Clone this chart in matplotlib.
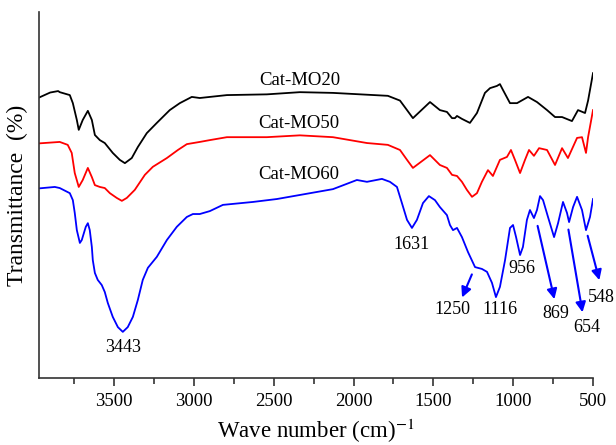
import matplotlib.pyplot as plt
import numpy as np

plt.rcParams['font.family'] = ['Liberation Serif', 'DejaVu Serif']
plt.rcParams['mathtext.fontset'] = 'stix'

# spectra (wavenumber in cm-1, transmittance in arbitrary units)
wn_mo20 = [3971, 3900, 3850, 3840, 3777, 3758, 3733, 3721, 3696, 3664, 3639, 3620,
           3589, 3558, 3508, 3464, 3432, 3389, 3351, 3295, 3232, 3151, 3088, 3013,
           2963, 2900, 2793, 2543, 2336, 2129, 1785, 1709, 1665, 1628, 1521, 1459,
           1415, 1383, 1365, 1352, 1321, 1271, 1227, 1177, 1145, 1102, 1083, 1064,
           1020, 976, 907, 851, 788, 738, 694, 632, 594, 550, 531, 500]
t_mo20 = [76.6, 78.0, 78.4, 78.1, 77.3, 75.1, 70.5, 67.8, 70.5, 73.0, 70.5, 66.4,
          65.0, 64.2, 61.5, 59.6, 58.7, 60.1, 63.1, 66.9, 69.7, 73.2, 75.1, 76.8,
          76.5, 76.8, 77.3, 77.5, 78.1, 77.9, 77.1, 75.8, 73.2, 71.0, 75.4, 73.2,
          72.7, 71.0, 71.0, 71.6, 70.8, 69.7, 72.4, 77.9, 79.2, 79.8, 80.3, 78.7,
          75.1, 75.1, 76.8, 75.4, 73.2, 71.3, 71.3, 70.2, 73.2, 72.4, 75.8, 83.3]

wn_mo50 = [3971, 3840, 3790, 3765, 3746, 3721, 3696, 3664, 3639, 3620, 3589, 3558,
           3526, 3483, 3451, 3420, 3370, 3307, 3257, 3169, 3100, 3044, 2963, 2900,
           2793, 2543, 2336, 2129, 1916, 1785, 1709, 1665, 1628, 1521, 1459, 1415,
           1383, 1352, 1321, 1290, 1258, 1227, 1196, 1158, 1127, 1083, 1039, 1014,
           989, 957, 926, 901, 870, 838, 788, 738, 694, 657, 600, 569, 544, 531, 500]
t_mo50 = [64.1, 64.5, 63.7, 61.5, 56.0, 52.2, 54.1, 57.4, 54.9, 52.7, 52.2, 51.9,
          50.5, 49.2, 48.4, 49.2, 51.4, 55.5, 57.7, 60.1, 62.3, 63.9, 64.5, 65.0,
          65.8, 65.8, 66.3, 65.8, 64.2, 63.7, 62.3, 59.6, 57.4, 60.9, 58.2, 57.4,
          55.5, 55.2, 53.6, 51.4, 49.5, 50.5, 53.6, 56.8, 55.2, 59.6, 60.4, 62.3,
          59.6, 56.0, 59.6, 62.3, 60.7, 62.8, 62.3, 58.2, 62.8, 60.1, 65.6, 65.8,
          61.5, 65.8, 73.2]

wn_mo60 = [3971, 3871, 3840, 3777, 3758, 3746, 3733, 3714, 3702, 3677, 3664, 3652,
           3639, 3633, 3620, 3602, 3577, 3558, 3539, 3508, 3476, 3445, 3414, 3382,
           3351, 3320, 3288, 3232, 3169, 3107, 3044, 3006, 2963, 2900, 2818, 2630,
           2480, 2129, 1979, 1916, 1822, 1772, 1728, 1697, 1665, 1634, 1603, 1565,
           1528, 1490, 1459, 1415, 1396, 1377, 1352, 1321, 1283, 1239, 1196, 1164,
           1133, 1108, 1083, 1051, 1020, 1001, 982, 957, 939, 914, 895, 870, 851,
           832, 813, 782, 744, 719, 688, 663, 650, 625, 600, 569, 544, 519, 500]
t_mo60 = [51.8, 52.2, 51.9, 50.5, 48.6, 45.1, 40.4, 36.9, 37.7, 41.3, 42.3, 40.4,
          35.8, 32.2, 28.7, 26.8, 25.4, 23.5, 20.5, 16.7, 13.9, 12.6, 13.9, 16.7,
          21.3, 26.8, 30.1, 33.1, 37.7, 41.3, 44.0, 44.8, 44.8, 45.6, 47.3, 48.1,
          48.9, 51.6, 54.1, 53.6, 54.4, 53.6, 52.2, 47.8, 43.2, 41.0, 43.2, 47.8,
          49.7, 48.6, 46.7, 44.5, 41.8, 40.4, 41.0, 38.5, 34.4, 30.3, 29.8, 29.0,
          26.0, 22.1, 24.9, 32.2, 41.0, 41.8, 38.5, 33.6, 35.8, 43.2, 45.9, 43.7, 45.9,
          49.7, 48.6, 44.0, 38.5, 42.3, 48.1, 45.1, 42.6, 46.7, 49.5, 45.9, 40.4, 44.0, 48.9]

series_names = ['Cat-MO20', 'Cat-MO50', 'Cat-MO60']
series_colors = ['black', 'red', 'blue']
name_pos = [(2335, 81.3), (2340, 69.5), (2340, 55.5)]

# peak labels without arrow: (text, x, y)
plain_labels = [('3443', 3440, 8.4), ('1631', 1635, 36.5), ('1116', 1080, 18.6), ('956', 945, 29.8)]
# arrowed peak labels: (text, arrow start, arrow end, text position)
arrow_labels = [
    ('1250', (1252, 29.0), (1327, 21.3), (1380, 18.6)),
    ('869', (851, 42.3), (738, 20.8), (735, 17.5)),
    ('654', (657, 41.3), (563, 17.2), (540, 13.7)),
    ('548', (538, 39.6), (456, 26.0), (445, 22.0)),
]

fig = plt.figure(figsize=(6.16, 4.45), dpi=100)
ax = fig.add_axes([0.0633, 0.1506, 0.8994, 0.8224])

for wn, t, c in zip([wn_mo20, wn_mo50, wn_mo60], [t_mo20, t_mo50, t_mo60], series_colors):
    ax.plot(wn, t, color=c, lw=1.3)

for name, (x, y) in zip(series_names, name_pos):
    ax.text(x, y, name, ha='center', va='center', fontsize=13.5)

for txt, x, y in plain_labels:
    ax.text(x, y, txt, ha='center', va='center', fontsize=13)

for txt, start, end, pos in arrow_labels:
    ax.annotate('', xy=end, xytext=start, annotation_clip=False,
                arrowprops=dict(arrowstyle='-|>', color='blue', lw=1.5, mutation_scale=15))
    ax.text(pos[0], pos[1], txt, ha='center', va='center', fontsize=13, clip_on=False)

ax.set_xlim(3970, 500)
ax.set_ylim(0, 100)
ax.set_xticks(np.arange(3500, 499, -500))
ax.set_xticks(np.arange(3750, 499, -500), minor=True)
ax.set_yticks([])
ax.spines['top'].set_visible(False)
ax.spines['right'].set_visible(False)
for s in ['left', 'bottom']:
    ax.spines[s].set_linewidth(1.2)
    ax.spines[s].set_color('#333333')
ax.tick_params(axis='x', which='major', direction='out', length=6, width=1.2,
               color='#333333', labelsize=13.5, pad=5)
ax.tick_params(axis='x', which='minor', direction='out', length=4, width=1.2, color='#333333')

ax.set_xlabel('Wave number (cm)$^{-1}$', fontsize=16.5, labelpad=5)
ax.set_ylabel('Transmittance  (%)', fontsize=17, labelpad=8)

fig.savefig('out.png', dpi=100)
